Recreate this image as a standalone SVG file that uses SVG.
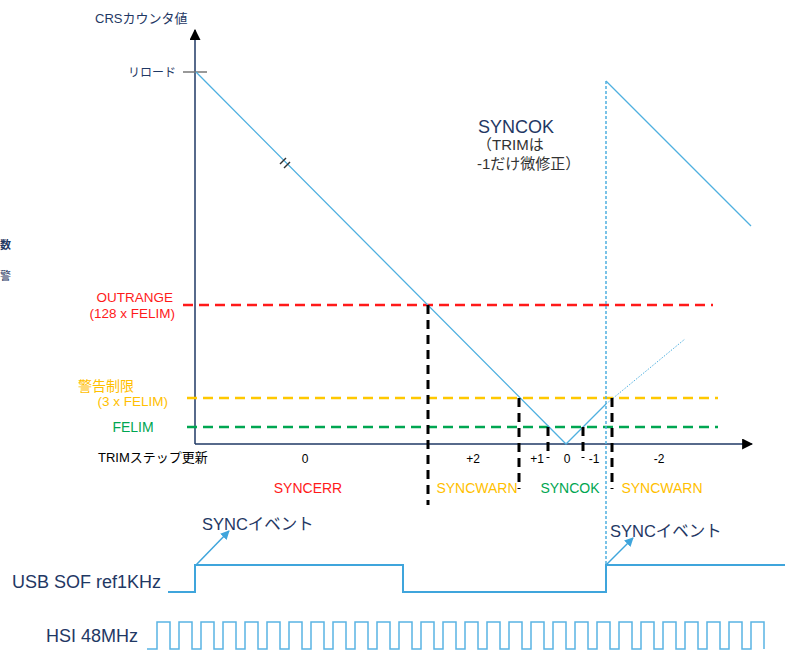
<svg xmlns="http://www.w3.org/2000/svg" width="800" height="651" viewBox="0 0 800 651">
<defs>
<style>
text{font-family:"Liberation Sans","Noto Sans CJK JP",sans-serif}
.navy{fill:#1f3864}
.axis{stroke:#1f3864;stroke-width:1.5;fill:none}
.ramp{stroke:#4fb0e0;stroke-width:1.3;fill:none}
.sig{stroke:#3fa5dc;stroke-width:2;fill:none}
.blk{stroke:#000;stroke-width:3;stroke-dasharray:9 6;fill:none}
.hd{stroke-width:2.5;stroke-dasharray:10 6;fill:none}
.red{fill:#ff1a1a}.yel{fill:#ffc000}.grn{fill:#00a651}
</style>
<marker id="ah" viewBox="0 0 10 10" refX="9" refY="5" markerWidth="9" markerHeight="9" markerUnits="userSpaceOnUse" orient="auto"><path d="M0,0 L10,5 L0,10 z" fill="#3fa5dc"/></marker>
<marker id="axh" viewBox="0 0 10 10" refX="9" refY="5" markerWidth="11" markerHeight="11" markerUnits="userSpaceOnUse" orient="auto"><path d="M0,0 L10,5 L0,10 z" fill="#000"/></marker>
</defs>
<rect width="800" height="651" fill="#fff"/>

<g id="edge-fragments" class="navy" font-size="11">
<text x="0" y="249" font-weight="bold">数</text>
<text x="0" y="280">警</text>
</g>

<g id="axes">
<line class="axis" x1="195" y1="444" x2="195" y2="30" marker-end="url(#axh)"/>
<line class="axis" x1="195" y1="444" x2="752" y2="444" marker-end="url(#axh)"/>
<line x1="183" y1="72" x2="207" y2="72" stroke="#777" stroke-width="1.5"/>
<text x="95" y="23" font-size="13" class="navy">CRSカウンタ値</text>
<text x="176" y="77" font-size="12" class="navy" text-anchor="end">リロード</text>
</g>

<g id="thresholds">
<line class="hd" x1="183" y1="305" x2="713" y2="305" stroke="#ff1a1a"/>
<line class="hd" x1="187" y1="398" x2="718" y2="398" stroke="#ffc800"/>
<line class="hd" x1="187" y1="427" x2="718" y2="427" stroke="#00a651"/>
<text x="173" y="302" font-size="13.5" class="red" text-anchor="end">OUTRANGE</text>
<text x="175" y="318" font-size="13.5" class="red" text-anchor="end">(128 x FELIM)</text>
<text x="78" y="391" font-size="14" class="yel">警告制限</text>
<text x="168" y="406" font-size="13.5" class="yel" text-anchor="end">(3 x FELIM)</text>
<text x="133" y="432" font-size="14" class="grn" text-anchor="middle">FELIM</text>
</g>

<g id="counter">
<polyline class="ramp" points="196,72 566,444 606,404"/>
<line x1="606" y1="404" x2="685" y2="339" stroke="#4fb0e0" stroke-width="1" stroke-dasharray="1.5 1.5"/>
<line x1="606" y1="81" x2="751" y2="226" class="ramp"/>
<line x1="606" y1="81" x2="606" y2="592" stroke="#4fb0e0" stroke-width="1.5" stroke-dasharray="3 2"/>
<g stroke="#333" stroke-width="1.5">
<line x1="280" y1="164" x2="286" y2="158"/>
<line x1="284" y1="168" x2="290" y2="162"/>
</g>
</g>

<g id="step-boundaries">
<line class="blk" x1="428" y1="305" x2="428" y2="505"/>
<line class="blk" x1="519" y1="398" x2="519" y2="489"/>
<line class="blk" x1="548" y1="427" x2="548" y2="458"/>
<line class="blk" x1="583" y1="427" x2="583" y2="458"/>
<line class="blk" x1="612" y1="398" x2="612" y2="489"/>
</g>

<g id="trim-steps" font-size="12" fill="#000" text-anchor="middle">
<text x="98" y="462" font-size="13" text-anchor="start">TRIMステップ更新</text>
<text x="305" y="463">0</text>
<text x="473" y="463">+2</text>
<text x="537" y="463">+1</text>
<text x="567" y="463">0</text>
<text x="594" y="463">-1</text>
<text x="659" y="463">-2</text>
</g>

<g id="states" font-size="14" text-anchor="middle">
<text x="308" y="493" class="red">SYNCERR</text>
<text x="477" y="493" class="yel">SYNCWARN</text>
<text x="570" y="493" class="grn">SYNCOK</text>
<text x="662" y="493" class="yel">SYNCWARN</text>
</g>

<g id="syncok-note">
<text x="478" y="133" font-size="18" class="navy">SYNCOK</text>
<text x="477" y="150" font-size="15" fill="#333">（TRIMは</text>
<text x="477" y="169" font-size="15" fill="#333">-1だけ微修正）</text>
</g>

<g id="usb-sof">
<text x="12" y="588" font-size="18" class="navy">USB SOF ref1KHz</text>
<path class="sig" d="M168,592 H195 V565 H403 V592 H606 V565 H785"/>
</g>

<g id="sync-events">
<line x1="196" y1="565" x2="229" y2="531" stroke="#3fa5dc" stroke-width="1.5" marker-end="url(#ah)"/>
<text x="202" y="530" font-size="16.5" class="navy">SYNCイベント</text>
<line x1="606" y1="565" x2="633" y2="538" stroke="#3fa5dc" stroke-width="1.5" marker-end="url(#ah)"/>
<text x="610" y="537" font-size="16.5" class="navy">SYNCイベント</text>
</g>

<g id="hsi">
<text x="46" y="642" font-size="18" class="navy">HSI 48MHz</text>
<path stroke="#5ab4e4" stroke-width="1.5" fill="none" d="M147,649 H157 v-27 h13 v27 h9 v-27 h13 v27 h9 v-27 h13 v27 h9 v-27 h13 v27 h9 v-27 h13 v27 h9 v-27 h13 v27 h9 v-27 h13 v27 h9 v-27 h13 v27 h9 v-27 h13 v27 h9 v-27 h13 v27 h9 v-27 h13 v27 h9 v-27 h13 v27 h9 v-27 h13 v27 h9 v-27 h13 v27 h9 v-27 h13 v27 h9 v-27 h13 v27 h9 v-27 h13 v27 h9 v-27 h13 v27 h9 v-27 h13 v27 h9 v-27 h13 v27 h9 v-27 h13 v27 h9 v-27 h13 v27 h9 v-27 h13 v27 h9 v-27 h13 v27 h9 v-27 h13 v27 h9 v-27 h13 v27 h9 v-27 h13 v27 h9 v-27 h13 v27"/>
</g>
</svg>
